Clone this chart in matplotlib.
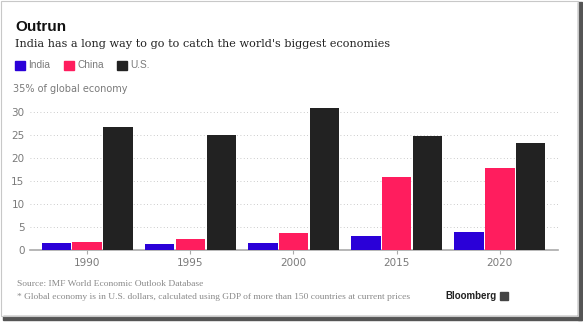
import matplotlib.pyplot as plt
import matplotlib.patches as ptc
import numpy as np

years = ["1990", "1995", "2000", "2015", "2020"]
india = [1.5, 1.2, 1.45, 3.0, 4.0]
china = [1.8, 2.4, 3.6, 15.9, 17.9]
us = [26.8, 24.9, 30.8, 24.8, 23.2]

series = [("India", india, "#2a00d8"), ("China", china, "#ff1d5e"), ("U.S.", us, "#222222")]
GREY = "#7a7a7a"

fig = plt.figure(figsize=(5.83, 3.22), dpi=100)
ax = fig.add_axes([0.0515, 0.2236, 0.9055, 0.5])

x = np.arange(len(years))
offsets = [-0.297, 0.0, 0.3]
for (name, vals, col), off in zip(series, offsets):
    ax.bar(x + off, vals, width=0.285, color=col, edgecolor="none", zorder=3)

ax.set_xlim(-0.553, 4.563)
ax.set_ylim(0, 35)
ax.set_yticks([0, 5, 10, 15, 20, 25, 30])
ax.set_xticks(x)
ax.set_xticklabels(years)
ax.tick_params(axis="y", length=0, pad=4, labelsize=7.5, labelcolor=GREY)
ax.tick_params(axis="x", length=3, color="#aaaaaa", pad=3, labelsize=7.5, labelcolor=GREY)
for s in ["top", "right", "left"]:
    ax.spines[s].set_visible(False)
ax.spines["bottom"].set_color("#aaaaaa")
ax.spines["bottom"].set_linewidth(1.2)
ax.grid(axis="y", color="#bbbbbb", linestyle=(0, (1, 3)), linewidth=0.6, zorder=0)
ax.text(13 / 583, (322 - 89) / 322, "35% of global economy", transform=fig.transFigure,
        ha="left", va="center", fontsize=7, color=GREY)

# titles
fig.text(15 / 583, 1 - 27 / 322, "Outrun", fontsize=11, fontweight="bold",
         family="Liberation Sans", ha="left", va="center", color="#111111")
fig.text(15 / 583, 1 - 44 / 322, "India has a long way to go to catch the world's biggest economies",
         fontsize=8.1, family="DejaVu Serif", ha="left", va="center", color="#222222")

# legend
leg_x = [15, 64, 117]
for (name, vals, col), lx in zip(series, leg_x):
    fig.patches.append(ptc.Rectangle((lx / 583, 1 - 70 / 322), 10 / 583, 9 / 322,
                                     transform=fig.transFigure, color=col))
    fig.text((lx + 13) / 583, 1 - 65.5 / 322, name, fontsize=7.3, color=GREY,
             family="Liberation Sans", ha="left", va="center")

# footer
fig.text(17 / 583, 1 - 284 / 322, "Source: IMF World Economic Outlook Database",
         fontsize=6.8, family="Liberation Serif", color="#8a8a8a", ha="left", va="center")
fig.text(17 / 583, 1 - 297 / 322,
         "* Global economy is in U.S. dollars, calculated using GDP of more than 150 countries at current prices",
         fontsize=6.8, family="Liberation Serif", color="#8a8a8a", ha="left", va="center")
fig.text(497 / 583, 1 - 296 / 322, "Bloomberg", fontsize=7, fontweight="bold",
         family="Liberation Sans", color="#222222", ha="right", va="center")
fig.patches.append(ptc.Rectangle((500 / 583, 1 - 300 / 322), 8 / 583, 8 / 322,
                                 transform=fig.transFigure, color="#444444"))

# screenshot frame and shadow
fig.patches.append(ptc.Rectangle((578 / 583, 2 / 322), 4 / 583, 318 / 322,
                                 transform=fig.transFigure, color="#555555"))
fig.patches.append(ptc.Rectangle((3 / 583, 2 / 322), 579 / 583, 4 / 322,
                                 transform=fig.transFigure, color="#555555"))
fig.patches.append(ptc.Rectangle((0.5 / 583, 6 / 322), 577 / 583, 315 / 322,
                                 transform=fig.transFigure, fill=False,
                                 edgecolor="#c8c8c8", linewidth=0.8))

fig.savefig("out.png", dpi=100)
